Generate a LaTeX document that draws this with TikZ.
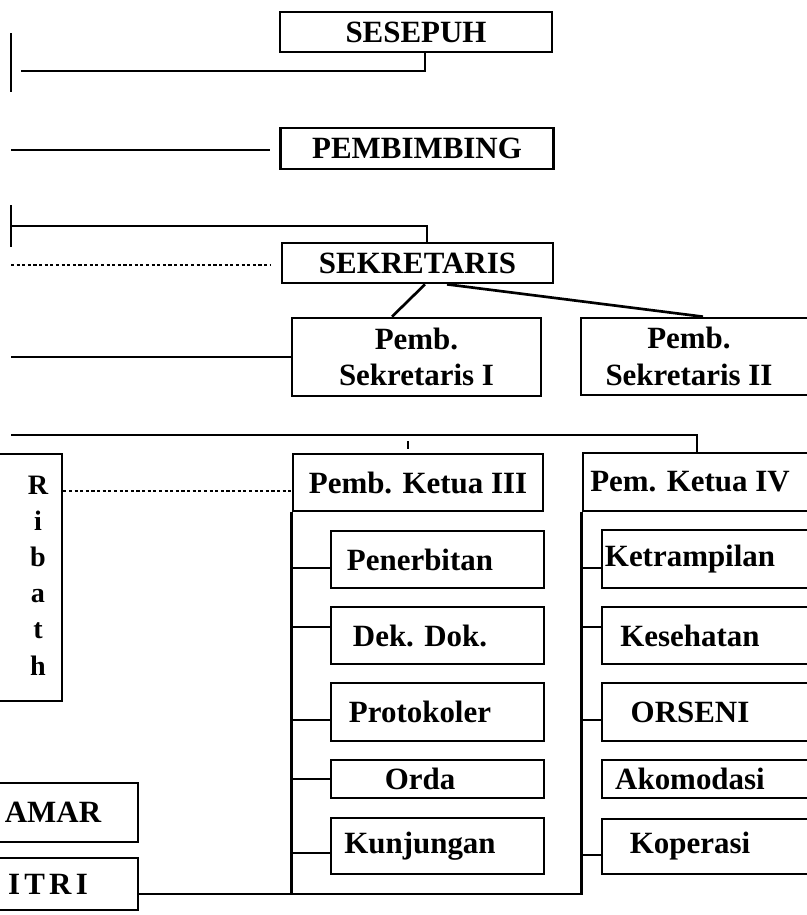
\documentclass[tikz,border=0pt]{standalone}
\usepackage{fontspec}
\setmainfont{Liberation Serif}
\newlength{\pxu}
\setlength{\pxu}{0.025cm}

\begin{document}
\begin{tikzpicture}[x=0.025cm, y=-0.025cm,
    box/.style={rectangle, draw, line width=1.9pt, inner sep=0pt, font=\bfseries\fontsize{22}{26}\selectfont},
    subbox/.style={box, minimum width=213\pxu},
    subboxr/.style={box, minimum width=248\pxu},
    link/.style={line width=1.9pt},
    dotline/.style={line width=1.9pt, dash pattern=on 2.2pt off 1.8pt}
]
\clip (0,0) rectangle (807,915);

% Top: Sesepuh, Pembimbing, Sekretaris
\node[box, minimum width=272\pxu, minimum height=40\pxu] (sesepuh) at (416,32) {SESEPUH};
\node[box, minimum width=273\pxu, minimum height=41\pxu] (pembimbing) at (417,148.5) {PEMBIMBING};
\node[box, minimum width=271\pxu, minimum height=40\pxu] (sekretaris) at (417.5,263) {SEKRETARIS};

% Pembantu sekretaris
\node[box, align=center, minimum width=249\pxu, minimum height=78\pxu] (sek1) at (416.5,357) {Pemb.\\Sekretaris I};
\node[box, align=center, minimum width=269\pxu, minimum height=77\pxu] (sek2) at (715.5,356.5)
    {\hspace*{-53\pxu}Pemb.\\\hspace*{-53\pxu}Sekretaris II};

% Pembantu ketua III and IV
\node[box, minimum width=250\pxu, minimum height=57\pxu] (ketua3) at (418,482.5) {Pemb. Ketua III};
\node[box, minimum width=267\pxu, minimum height=58\pxu] (ketua4) at (716.5,482) {\hspace*{-53\pxu}Pem. Ketua IV};

% Seksi under ketua III
\node[subbox, minimum height=57\pxu] (penerbitan) at (437.5,559.5) {\hspace*{-35\pxu}Penerbitan};
\node[subbox, minimum height=57\pxu] (dekdok) at (437.5,635.5) {\hspace*{-35\pxu}Dek. Dok.};
\node[subbox, minimum height=58\pxu] (protokoler) at (437.5,712) {\hspace*{-35\pxu}Protokoler};
\node[subbox, minimum height=38\pxu] (orda) at (437.5,779) {\hspace*{-35\pxu}Orda};
\node[subbox, minimum height=56\pxu] (kunjungan) at (437.5,846) {\hspace*{-35\pxu}Kunjungan};

% Seksi under ketua IV
\node[subboxr, minimum height=58\pxu] (ketrampilan) at (726,559) {\hspace*{-72\pxu}Ketrampilan};
\node[subboxr, minimum height=57\pxu] (kesehatan) at (726,635.5) {\hspace*{-72\pxu}Kesehatan};
\node[subboxr, minimum height=58\pxu] (orseni) at (726,712) {\hspace*{-72\pxu}ORSENI};
\node[subboxr, minimum height=38\pxu] (akomodasi) at (726,779) {\hspace*{-72\pxu}Akomodasi};
\node[subboxr, minimum height=55\pxu] (koperasi) at (726,846.5) {\hspace*{-72\pxu}Koperasi};

% Left side
\node[box, minimum width=162\pxu, minimum height=247\pxu, font=\bfseries\fontsize{20}{24}\selectfont\renewcommand{\arraystretch}{1.07}]
    (ribath) at (-19,577.5) {\hspace*{114\pxu}\begin{tabular}{@{}c@{}}R\\i\\b\\a\\t\\h\end{tabular}};
\node[box, minimum width=200\pxu, minimum height=59\pxu] (amar) at (38,812.5) {\hspace*{30\pxu}AMAR};
\node[box, minimum width=200\pxu, minimum height=52\pxu] (itri) at (38,884) {\hspace*{20\pxu}I\kern3pt T\kern3pt R\kern3pt I};

% Free ends on the left
\coordinate (sesL) at (21,71);
\coordinate (tickA1) at (11,33);
\coordinate (tickA2) at (11,92);
\coordinate (pemL) at (11,150);
\coordinate (tickB1) at (11,205);
\coordinate (tickB2) at (11,247);
\coordinate (sekL) at (11,226);
\coordinate (dotL) at (11,265);
\coordinate (sek1L) at (11,357);
\coordinate (ketL) at (11,435);
\coordinate (stubA) at (408,441);
\coordinate (stubB) at (408,449);

% Lines
\draw[link] (sesL) -| ([xshift=9\pxu]sesepuh.south);
\draw[link] (tickA1) -- (tickA2);
\draw[link, shorten >=9\pxu] (pemL) -- (pembimbing.west |- pemL);
\draw[link] (tickB1) -- (tickB2);
\draw[link] (sekL) -| ([xshift=9.5\pxu]sekretaris.north);
\draw[dotline, shorten >=10\pxu] (dotL) -- (sekretaris.west |- dotL);
\draw[link] ([xshift=7.5\pxu]sekretaris.south) -- ([xshift=-24.5\pxu]sek1.north);
\draw[link] ([xshift=29.5\pxu]sekretaris.south) -- ([xshift=-12.5\pxu]sek2.north);
\draw[link] (sek1L) -- (sek1.west |- sek1L);
\draw[link] (ketL) -| ([xshift=-19.5\pxu]ketua4.north);
\draw[link] (stubA) -- (stubB);
\draw[dotline] (ribath.east |- 0,491) -- (ketua3.west |- 0,491);

\draw[link] (ketua3.south west) -- (ketua3.south west |- 0,894);
\draw[link] (itri.east |- 0,894) -| (ketua4.south west);
\foreach \n/\y in {penerbitan/568, dekdok/627, protokoler/720, orda/779, kunjungan/853}
    \draw[link] (ketua3.west |- 0,\y) -- (\n.west |- 0,\y);
\foreach \n/\y in {ketrampilan/568, kesehatan/627, orseni/720, koperasi/855}
    \draw[link] (ketua4.west |- 0,\y) -- (\n.west |- 0,\y);

\end{tikzpicture}
\end{document}
